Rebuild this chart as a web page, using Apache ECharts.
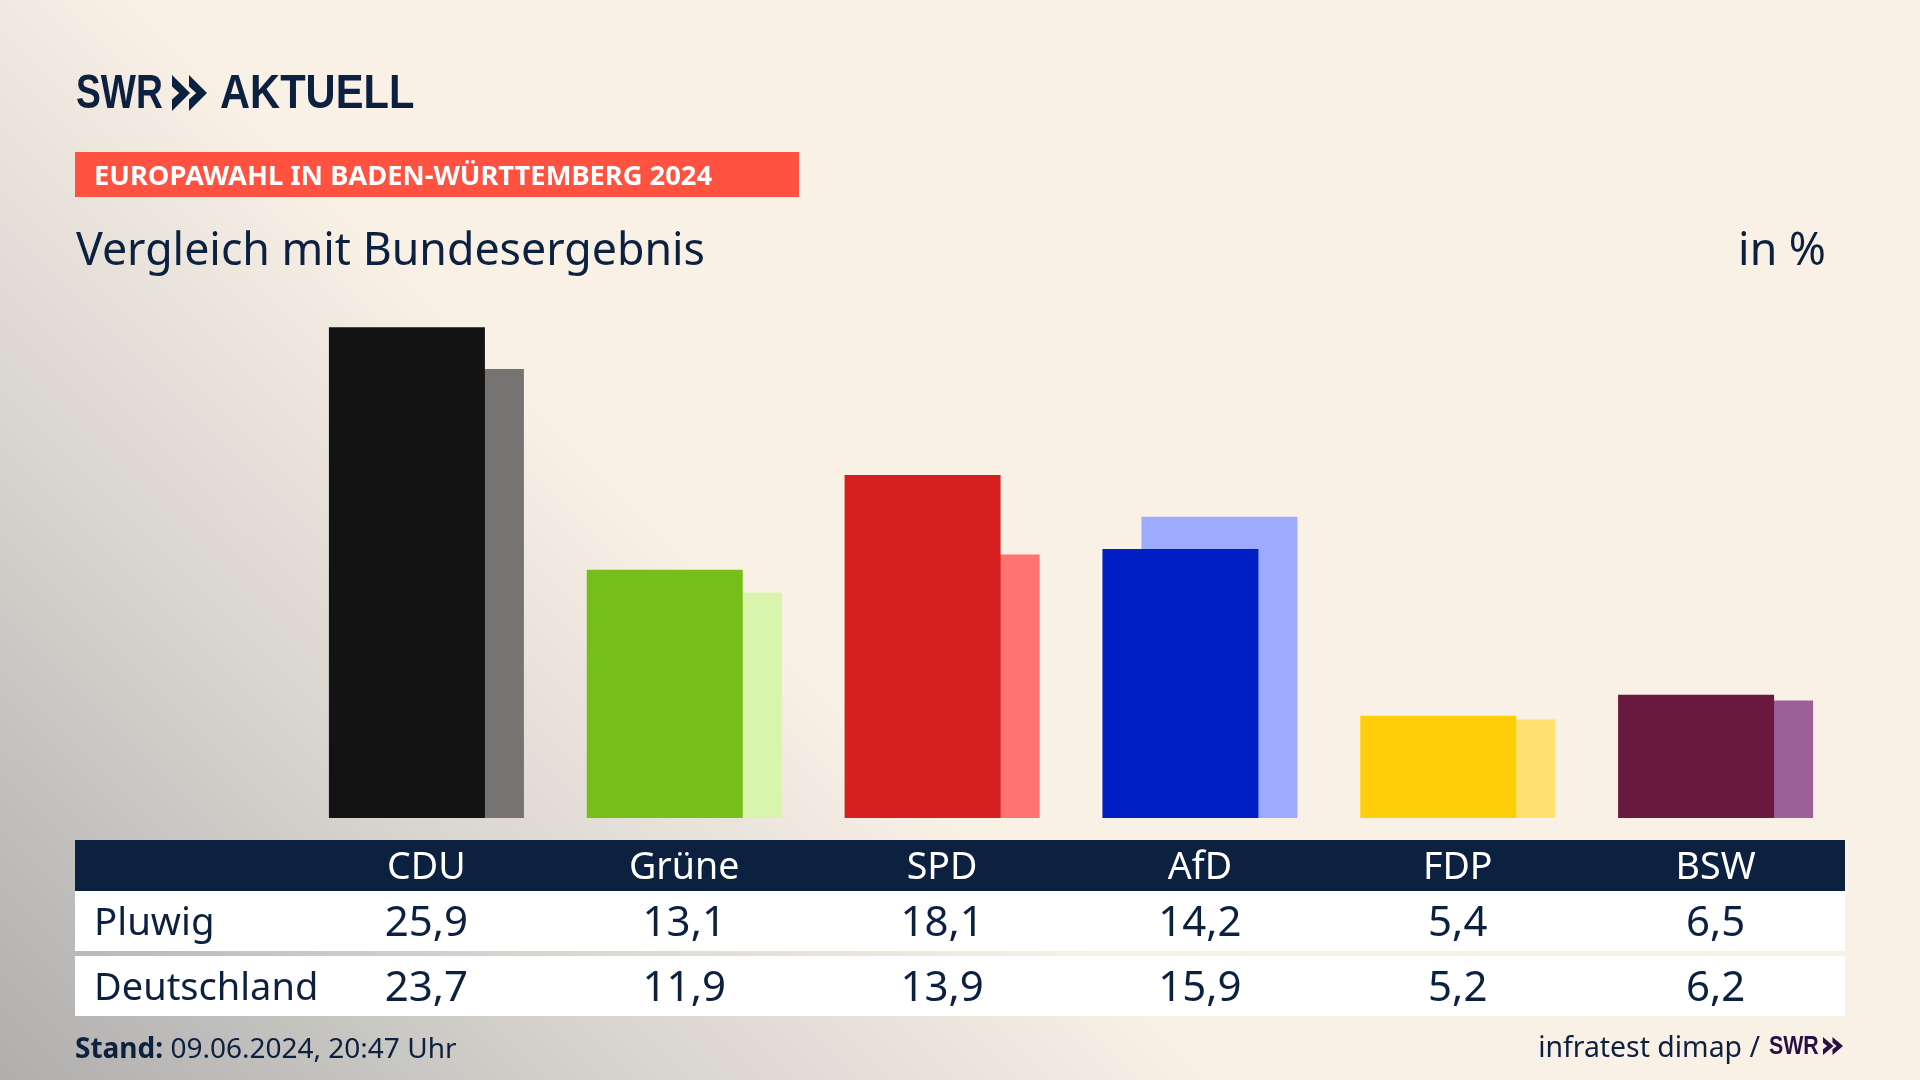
<!DOCTYPE html>
<html>
<head>
    <meta charset="utf-8">
    <title>Europawahl</title>
    <script src="https://cdn.jsdelivr.net/npm/echarts@6/dist/echarts.min.js"></script>
    <style>
        html, body { margin: 0; padding: 0; }
        body {
            width: 1920px; height: 1080px; overflow: hidden;
            background: linear-gradient(45deg, #b0afae 0, #bdbcba 170px, #d3d0cb 403px, #e6e0d9 636px, #faf1e6 870px);
        }
    </style>
</head>
<body>
    <div id="chartmain" style="width:1920px; height:1080px;"></div>

    <script type="text/javascript">
        var myChart = echarts.init(document.getElementById('chartmain'));

        var NAVY = '#0c2040';
        var FONT = '"Noto Sans"';
        var LOGO = '"Liberation Sans"';

        var parteien = ['CDU', 'Grüne', 'SPD', 'AfD', 'FDP', 'BSW'];
        var pluwig = [25.9, 13.1, 18.1, 14.2, 5.4, 6.5];
        var deutschland = [23.7, 11.9, 13.9, 15.9, 5.2, 6.2];
        var farben = ['#131313', '#78be1b', '#d61f1f', '#0020c6', '#ffcd0a', '#6a1a40'];
        var farbenHell = ['#757472', '#d8f5ab', '#ff7370', '#9dabff', '#ffe070', '#9b6098'];

        function mitFarbe(werte, cols) {
            return werte.map(function (v, i) {
                return { value: v, itemStyle: { color: cols[i] } };
            });
        }

        function komma(v) {
            return v.toFixed(1).replace('.', ',');
        }

        function text(t, x, y, size, opt) {
            opt = opt || {};
            return {
                type: 'text', x: x, y: y, z: 5,
                scaleX: opt.scaleX || 1,
                style: {
                    text: t, fontFamily: opt.family || FONT, fontSize: size,
                    fontWeight: opt.weight || 'normal',
                    fill: opt.fill || NAVY,
                    align: opt.align || 'left', verticalAlign: 'middle',
                    rich: opt.rich
                }
            };
        }

        // doppelpfeil vom logo
        function pfeile(x, y, h, w, d, col) {
            var out = [];
            [0, d].forEach(function (dx) {
                var l = x + dx;
                out.push({
                    type: 'polygon', z: 5,
                    shape: {
                        points: [[l, y], [l + w, y + h / 2], [l, y + h], [l, y + h * 0.68],
                            [l + w * 0.4, y + h / 2], [l, y + h * 0.32]]
                    },
                    style: { fill: col }
                });
            });
            return out;
        }

        myChart.setOption({
            animation: false,
            grid: { left: 297.5, width: 1547, top: 249.5, height: 568.5 },
            xAxis: {
                type: 'category',
                data: parteien,
                axisLine: { show: false },
                axisTick: { show: false },
                axisLabel: {
                    color: '#fff', fontFamily: FONT, fontSize: 37.6,
                    margin: 31, interval: 0
                },
                z: 6
            },
            yAxis: { type: 'value', min: 0, max: 30, show: false },
            series: [
                {
                    name: 'Pluwig', type: 'bar', barWidth: 156, barGap: '-75%', z: 3,
                    data: mitFarbe(pluwig, farben)
                },
                {
                    name: 'Deutschland', type: 'bar', barWidth: 156, z: 2,
                    data: mitFarbe(deutschland, farbenHell)
                }
            ]
        });

        // tabelle unter dem chart, spalten kommen von der x-achse
        var el = [
            { type: 'rect', z: -1, shape: { x: 75, y: 840, width: 1770, height: 51 }, style: { fill: NAVY } },
            { type: 'rect', z: -1, shape: { x: 75, y: 891, width: 1770, height: 60 }, style: { fill: '#fff' } },
            { type: 'rect', z: -1, shape: { x: 75, y: 956, width: 1770, height: 60 }, style: { fill: '#fff' } },
            { type: 'rect', z: 1, shape: { x: 75, y: 152, width: 724, height: 45 }, style: { fill: '#ff5240' } },
            text('SWR', 76, 94, 49, { weight: 'bold', family: LOGO, scaleX: 0.76 }),
            text('AKTUELL', 220, 94, 49, { weight: 'bold', family: LOGO, scaleX: 0.85 }),
            text('EUROPAWAHL IN BADEN-WÜRTTEMBERG 2024', 94, 177, 27.3, { weight: 'bold', fill: '#fff' }),
            text('Vergleich mit Bundesergebnis', 76, 252, 44.7),
            text('in %', 1826, 252, 44.7, { align: 'right' }),
            text('Pluwig', 94, 924, 38.4),
            text('Deutschland', 94, 989, 38),
            text('{b|Stand:} 09.06.2024, 20:47 Uhr', 75, 1050, 28, {
                rich: { b: { fontFamily: FONT, fontSize: 28, fontWeight: 'bold', fill: NAVY, color: NAVY } }
            }),
            text('infratest dimap /', 1760, 1049, 28.4, { align: 'right' }),
            text('SWR', 1769, 1047, 26, { weight: 'bold', family: LOGO, fill: '#2a0f45', scaleX: 0.82 })
        ];
        el = el.concat(pfeile(172, 75, 36, 18, 17, NAVY), pfeile(1823, 1037, 18, 10.5, 9.5, '#2a0f45'));

        parteien.forEach(function (p, i) {
            var x = myChart.convertToPixel({ xAxisIndex: 0 }, p);
            el.push(text(komma(pluwig[i]), x, 924, 42, { align: 'center' }));
            el.push(text(komma(deutschland[i]), x, 989, 42, { align: 'center' }));
        });

        myChart.setOption({ graphic: { elements: el } });
    </script>
</body>
</html>
